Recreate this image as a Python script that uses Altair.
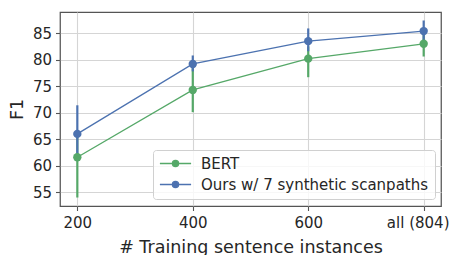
import altair as alt
import pandas as pd

x_labels = ["200", "400", "600", "all (804)"]
series_names = ["BERT", "Ours w/ 7 synthetic scanpaths"]
bert_f1 = [61.6, 74.3, 80.2, 83.0]
bert_lo = [54.0, 70.1, 76.7, 80.6]
bert_hi = [65.5, 78.4, 82.5, 85.0]
ours_f1 = [66.0, 79.2, 83.5, 85.4]
ours_lo = [61.8, 77.8, 81.6, 83.4]
ours_hi = [71.4, 80.8, 85.9, 87.4]
y_ticks = [55, 60, 65, 70, 75, 80, 85]
colors = ["#55a868", "#4c72b0"]

rows = []
for name, f1, lo, hi in [(series_names[0], bert_f1, bert_lo, bert_hi),
                         (series_names[1], ours_f1, ours_lo, ours_hi)]:
    for i, lab in enumerate(x_labels):
        rows.append({"x": lab, "series": name, "f1": f1[i], "lo": lo[i], "hi": hi[i],
                     "order": series_names.index(name)})
df = pd.DataFrame(rows)

FONT = "DejaVu Sans"
x_enc = alt.X("x:O", sort=x_labels, scale=alt.Scale(type="point", padding=0.15),
              axis=alt.Axis(title="# Training sentence instances", labelAngle=0,
                            grid=True, labelOverlap=False,
                            labelOffset={"condition": {"test": f"datum.value == '{x_labels[-1]}'",
                                                       "value": -6}, "value": 0}))
y_scale = alt.Scale(domain=[52.4, 89.0], nice=False, zero=False)
y_axis = alt.Axis(title="F1", values=y_ticks, labelOverlap=False)
legend = alt.Legend(
    title=None, orient="none", legendX=93, legendY=138,
    symbolType="M-2.6,0H2.6M0.5,0A0.5,0.5 0 1,1 -0.5,0A0.5,0.5 0 1,1 0.5,0Z",
    symbolSize=144, symbolStrokeWidth=1.5, symbolOffset=9,
    labelFontSize=15, labelFont=FONT, labelColor="#262626", labelLimit=0,
    padding=6, rowPadding=5, labelOffset=18,
    fillColor="rgba(255,255,255,0.8)", strokeColor="#d0d0d0",
    cornerRadius=3)
color_enc = alt.Color("series:N", sort=series_names,
                      scale=alt.Scale(domain=series_names, range=colors),
                      legend=legend)

base = alt.Chart(df)
rules = base.mark_rule(strokeWidth=2.2).encode(
    x=x_enc, y=alt.Y("lo:Q", scale=y_scale, axis=y_axis), y2="hi:Q",
    color=color_enc, order="order:Q")
lines = base.mark_line(strokeWidth=1.3).encode(
    x=x_enc, y=alt.Y("f1:Q", scale=y_scale, axis=y_axis),
    color=color_enc, detail="series:N")
points = base.mark_point(filled=True, size=70, opacity=1).encode(
    x=x_enc, y=alt.Y("f1:Q", scale=y_scale, axis=y_axis), color=color_enc, order="order:Q")

chart = alt.layer(rules, lines, points).properties(
    width=381, height=194,
    autosize=alt.AutoSizeParams(type="none"),
    padding={"left": 52, "top": 4, "right": 9, "bottom": 51},
).configure_view(stroke="#555555", strokeWidth=1.25).configure_axis(
    labelFont=FONT, titleFont=FONT, labelFontSize=15, titleFontSize=17.5,
    labelColor="#262626", titleColor="#262626", titleFontWeight="normal",
    gridColor="#d5d5d5", gridWidth=1.1, domain=False,
    tickColor="#555555", tickSize=4.5, tickWidth=1.1, labelPadding=3,
).configure_axisY(titlePadding=6, labelPadding=4).configure_axisX(titlePadding=8, labelPadding=5)

chart.save("out.html", embed_options={"renderer": "svg", "actions": False})
